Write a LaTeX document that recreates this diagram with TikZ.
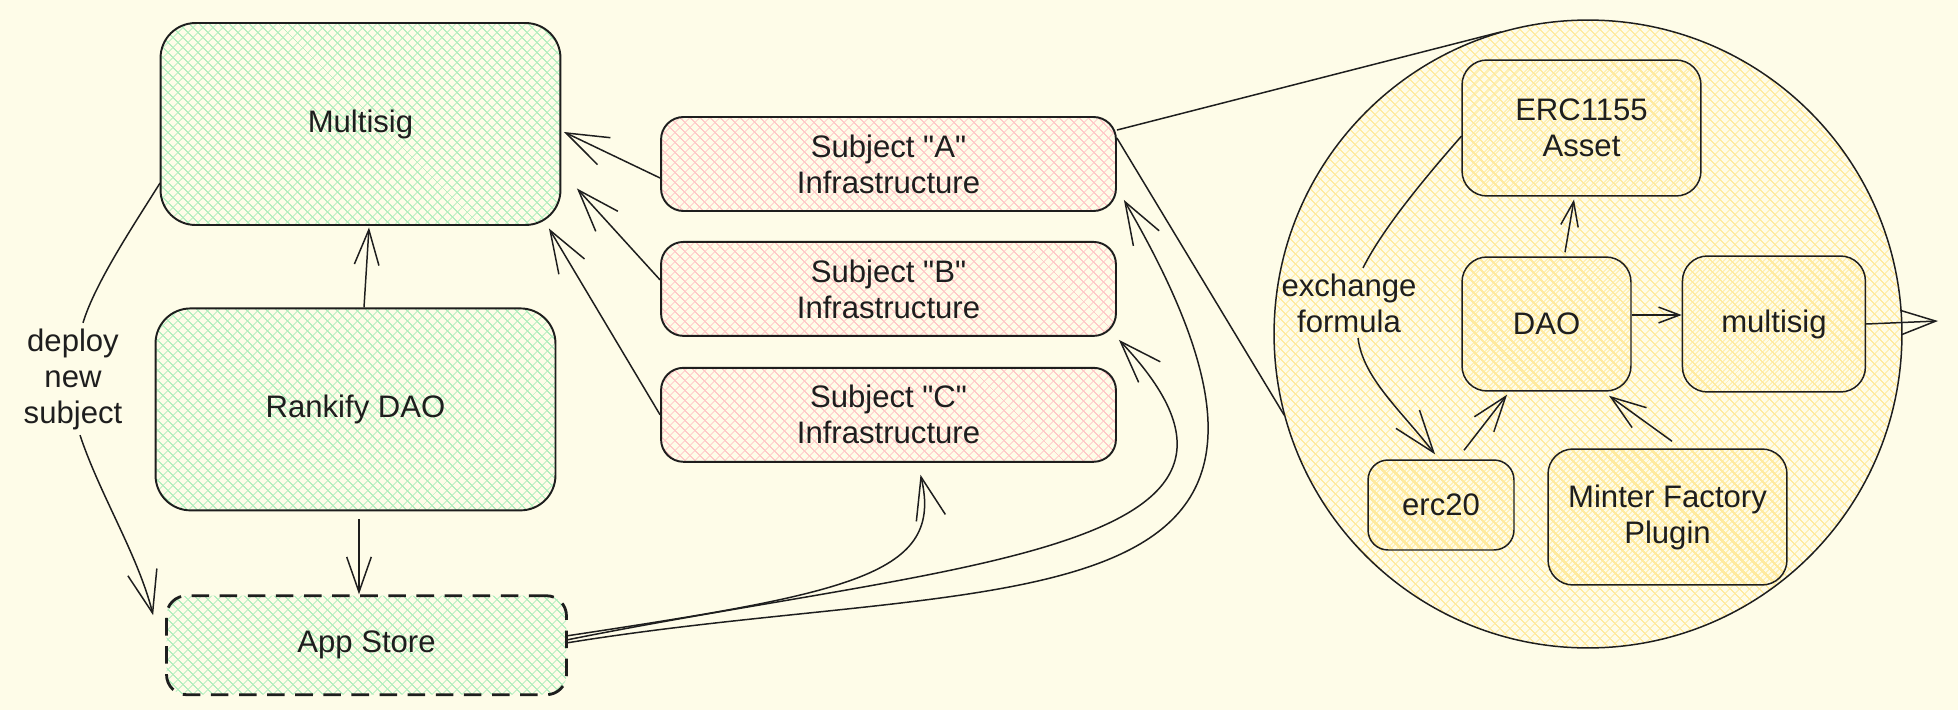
\documentclass[tikz,border=0pt]{standalone}
\usepackage{fontspec}
\setmainfont{Liberation Sans}[Ligatures=TeXOff]
\usepackage{tikz}
\usetikzlibrary{positioning, shapes, arrows.meta, patterns.meta}
\definecolor{paper}{RGB}{254, 252, 232}
\definecolor{mintgreen}{RGB}{178, 238, 190}
\definecolor{rosered}{RGB}{255, 200, 200}
\definecolor{sandyellow}{RGB}{255, 234, 158}
\definecolor{inkgray}{RGB}{30, 30, 30}

\begin{document}
\begin{tikzpicture}[x=0.02cm, y=0.02cm, >={Straight Barb[length=24pt, width=17pt]}, line join=round]
    \tikzstyle{box} = [rectangle, draw=inkgray, line width=1.1pt, align=center, inner sep=0pt, text=inkgray, font=\fontsize{17.7}{20.5}\selectfont]
    \tikzstyle{greenbox} = [box, rounded corners=0.7cm, pattern={Hatch[angle=45, distance=4pt, line width=0.55pt]}, pattern color=mintgreen, minimum width=8cm, minimum height=4.04cm]
    \tikzstyle{subjectbox} = [box, rounded corners=0.45cm, pattern={Hatch[angle=45, distance=4pt, line width=0.55pt]}, pattern color=rosered, minimum width=9.1cm, minimum height=1.88cm]
    \tikzstyle{innerbox} = [box, line width=0.85pt, rounded corners=0.5cm, pattern={Hatch[angle=45, distance=4pt, line width=0.55pt, xshift=2pt]}, pattern color=sandyellow]
    \tikzstyle{label} = [align=center, inner sep=3pt, text=inkgray, font=\fontsize{17.7}{20.5}\selectfont]
    \tikzstyle{link} = [draw=inkgray, line width=0.85pt]
    \tikzset{midbarb/.tip={Straight Barb[length=20pt, width=14pt]}, smallbarb/.tip={Straight Barb[length=14pt, width=10pt]}}

    \fill[paper] (0,0) rectangle (1958,-710);

    \node[greenbox] (multisig) at (360.5,-124) {Multisig};
    \node[greenbox, below=1.64cm of multisig, xshift=-0.1cm] (rankify) {Rankify DAO};
    \node[greenbox, dashed, dash pattern=on 10pt off 6pt, line width=1.6pt, rounded corners=0.4cm, minimum height=1.98cm, below=1.66cm of rankify, xshift=0.22cm] (app) {App Store};

    \node[subjectbox] (subA) at (888.5,-164) {Subject "A"\\Infrastructure};
    \node[subjectbox, below=0.58cm of subA] (subB) {Subject "B"\\Infrastructure};
    \node[subjectbox, below=0.6cm of subB] (subC) {Subject "C"\\Infrastructure};

    \node[label] (deploy) at (73,-379) {deploy\\new\\subject};

    \node[circle, draw=inkgray, line width=0.85pt, minimum size=12.56cm, pattern={Hatch[angle=45, distance=4pt, line width=0.5pt]}, pattern color=sandyellow] (detail) at (1588,-334) {};
    \node[innerbox, minimum width=4.78cm, minimum height=2.72cm] (erc) at (1581.5,-128) {ERC1155\\Asset};
    \node[innerbox, minimum width=3.38cm, minimum height=2.68cm] (dao) at (1546.5,-324) {DAO};
    \node[innerbox, minimum width=3.66cm, minimum height=2.72cm, right=1cm of dao] (msig) {multisig};
    \node[innerbox, rounded corners=0.4cm, minimum width=2.92cm, minimum height=1.8cm] (erc20) at (1441,-505) {erc20};
    \node[innerbox, minimum width=4.78cm, minimum height=2.72cm] (minter) at (1667.5,-517) {Minter Factory\\Plugin};
    \node[label] (exch) at (1349,-303) {exchange\\formula};
    \coordinate (outlet) at (1938,-321);

    \draw[link, ->] ([yshift=-0.28cm]subA.west) -- ([shift={(3,-8)}]multisig.east);
    \draw[link, ->] ([yshift=0.18cm]subB.west) -- ([shift={(16,37)}]multisig.south east);
    \draw[link, ->] (subC.west) -- ([shift={(-12,-3)}]multisig.south east);

    \draw[link, -midbarb] ([xshift=0.17cm]rankify.north) -- ([xshift=0.17cm, yshift=-0.04cm]multisig.south);
    \draw[link, -midbarb] ([xshift=0.07cm, yshift=-0.16cm]rankify.south) -- ([xshift=0.07cm]rankify.south |- app.north);

    \draw[link] ([yshift=-1.18cm]multisig.west) .. controls +(-25,-40) and +(12,40) .. ([xshift=0.2cm]deploy.north);
    \draw[link, ->] ([xshift=0.14cm]deploy.south) .. controls +(20,-60) and +(-15,60) .. ([shift={(-12,30)}]app.west);

    \draw[link, ->] ([yshift=0.19cm]app.east) .. controls +(284,43) and +(24,-100) .. ([shift={(32,-12)}]subC.south);
    \draw[link, ->] ([yshift=0.11cm]app.east) .. controls +(384,77) and +(202,-213) .. ([shift={(2,-3)}]subB.south east);
    \draw[link, ->] ([yshift=0.05cm]app.east) .. controls +(434,70) and +(257,-441) .. ([shift={(7,12)}]subA.south east);

    \draw[link] ([yshift=-0.28cm]subA.north east) -- (detail.106);
    \draw[link] ([yshift=-0.44cm]subA.north east) -- (detail.195);

    \draw[link, -smallbarb] ([xshift=0.37cm, yshift=0.08cm]dao.north) -- ([xshift=-0.15cm, yshift=-0.06cm]erc.south);
    \draw[link, -{Straight Barb[length=12pt, width=9pt]}] ([yshift=0.18cm]dao.east) -- ([yshift=0.18cm]dao.east -| msig.west);
    \draw[link, -midbarb] ([shift={(23,9)}]erc20.north) -- ([shift={(-39.5,-3)}]dao.south);
    \draw[link, -midbarb] ([shift={(4.5,7)}]minter.north) -- ([shift={(62.5,-4)}]dao.south);
    \draw[link] ([yshift=-0.16cm]erc.west) .. controls +(-35,-40) and +(20,40) .. ([xshift=0.28cm]exch.north);
    \draw[link, ->] ([xshift=0.18cm]exch.south) .. controls +(5,-40) and +(-35,45) .. ([shift={(-6,5)}]erc20.north);
    \draw[link, -midbarb] (msig.east) -- (outlet);
\end{tikzpicture}
\end{document}
